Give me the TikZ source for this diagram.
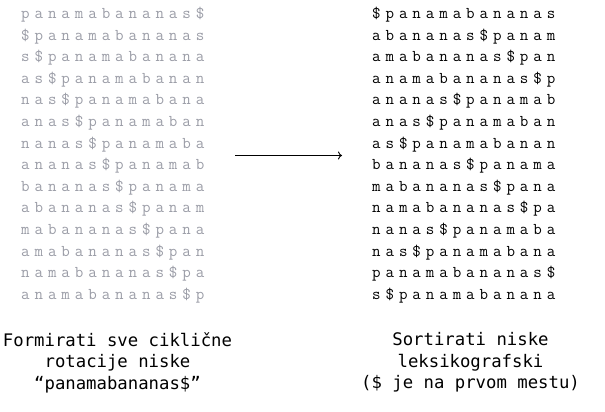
\documentclass[tikz,border=0pt]{standalone}
\usepackage{fontspec}
\usetikzlibrary{arrows.meta}
\newfontfamily\rotfont[LetterSpace=29.9]{Latin Modern Mono}
\newfontfamily\capfont{DejaVu Sans Mono}
\definecolor{rotgray}{RGB}{155,157,167}
\tikzset{
	rotrow/.style={anchor=base west,inner sep=0pt,font=\rotfont\fontsize{16.5}{18}\selectfont},
	caption/.style={align=center,inner sep=0pt,font=\capfont\fontsize{17.3}{21.7}\selectfont}
}
\begin{document}
\begin{tikzpicture}[x=1pt,y=-1pt]
		\useasboundingbox (0,0) rectangle (605,412);

		% Ciklicne rotacije
		\foreach \txt [count=\i] in {panamabananas\$,\$panamabananas,s\$panamabanana,as\$panamabanan,nas\$panamabana,anas\$panamaban,nanas\$panamaba,ananas\$panamab,bananas\$panama,abananas\$panam,mabananas\$pana,amabananas\$pan,namabananas\$pa,anamabananas\$p}
			\node[rotrow,text=rotgray] (rot\i) at (21,{18.5+21.6*(\i-1)}) {\txt};

		% Sortirane rotacije
		\foreach \txt [count=\i] in {\$panamabananas,abananas\$panam,amabananas\$pan,anamabananas\$p,ananas\$panamab,anas\$panamaban,as\$panamabanan,bananas\$panama,mabananas\$pana,namabananas\$pa,nanas\$panamaba,nas\$panamabana,panamabananas\$,s\$panamabanana}
			\node[rotrow] (srt\i) at (372,{18.5+21.6*(\i-1)}) {\txt};

		% Strelica
		\coordinate (from) at (235,155.5);
		\coordinate (to) at (342,155.5);
		\draw[-{To[length=4pt,width=8pt]},line width=0.9pt] (from) -- (to);

		% Opisi
		\node[caption,anchor=north] (capleft) at (117.5,332) {Formirati sve ciklične\\rotacije niske\\“panamabananas\$”};
		\node[caption,anchor=north] (capright) at (470.5,332) {Sortirati niske\\leksikografski\\(\$ je na prvom mestu)};
\end{tikzpicture}
\end{document}
